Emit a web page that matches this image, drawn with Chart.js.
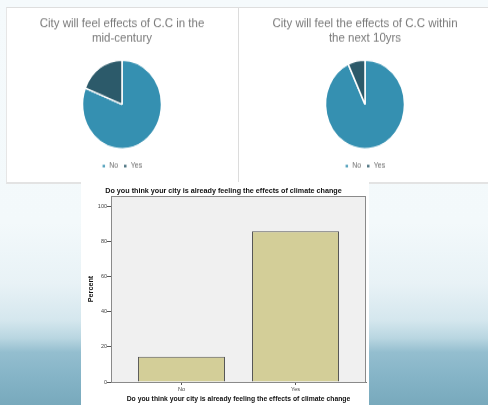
<!DOCTYPE html>
<html>
<head>
<meta charset="utf-8">
<script src="https://cdn.jsdelivr.net/npm/chart.js@4.4.1/dist/chart.umd.min.js"></script>
<style>
  body {
    margin: 0;
    width: 488px;
    height: 405px;
    overflow: hidden;
    position: relative;
    background: linear-gradient(180deg, #f5fafc 0%, #f3f9fb 55%, #e8f2f6 70%, #d5e7ee 79%, #b9d6e1 83.5%, #94becf 87%, #85b4c7 93%, #78a9bc 100%);
  }
  #top {
    position: absolute; left: 6px; top: 7px; width: 482px; height: 174px;
    background: #fff; border-top: 1px solid #dedede; border-left: 1px solid #e6e6e6; border-bottom: 2px solid #e3e3e3;
  }
  #sep { position: absolute; left: 238px; top: 8px; width: 1px; height: 174px; background: #dcdcdc; }
  .pie { position: absolute; top: 8px; height: 154px; transform: scaleY(1.125); transform-origin: 0 0; }
  #barbox { position: absolute; left: 81px; top: 182px; width: 288px; height: 223px; background: #fff; }
</style>
</head>
<body>
<div id="top"></div>
<div id="sep"></div>
<div class="pie" style="left:6px;width:232px"><canvas id="pie1" width="232" height="154"></canvas></div>
<div class="pie" style="left:242px;width:246px"><canvas id="pie2" width="246" height="154"></canvas></div>
<div id="barbox"><canvas id="bar" width="288" height="223"></canvas></div>
<script>
// pie data (share of answers, %)
const pieLabels = ["No", "Yes"];
const midCentury = [81, 19];
const next10yrs = [93, 7];
const pieColors = ["#3590b1", "#2c5a6a"];

// bar data
const barLabels = ["No", "Yes"];
const barPercent = [14.3, 85.7];
const barQuestion = "Do you think your city is already feeling the effects of climate change";

function pieChart(id, title, values) {
  new Chart(document.getElementById(id), {
    type: "pie",
    data: {
      labels: pieLabels,
      datasets: [{
        data: values,
        backgroundColor: pieColors,
        borderColor: "#fff",
        borderWidth: 1.5
      }]
    },
    options: {
      responsive: false,
      animation: false,
      radius: 39.5,
      layout: { padding: 0 },
      plugins: {
        title: {
          display: true,
          text: title,
          color: "#7a7a7a",
          font: { family: "Liberation Sans", size: 11.5, weight: "normal", lineHeight: 1.087 },
          padding: { top: 8, bottom: 6.3 }
        },
        legend: {
          position: "bottom",
          labels: {
            usePointStyle: true,
            pointStyle: "rect",
            pointStyleWidth: 4,
            boxWidth: 4,
            boxHeight: 3.5,
            padding: 5,
            color: "#6a6a6a",
            font: { family: "Liberation Sans", size: 7 }
          }
        },
        tooltip: { enabled: false }
      }
    }
  });
}

pieChart("pie1", ["City will feel effects of C.C in the", "mid-century"], midCentury);
pieChart("pie2", ["City will feel the effects of C.C within", "the next 10yrs"], next10yrs);

const plotFrame = {
  id: "plotFrame",
  beforeDraw(chart) {
    const a = chart.chartArea, ctx = chart.ctx;
    ctx.save();
    ctx.fillStyle = "#f0f0f0";
    ctx.fillRect(a.left, a.top, a.right - a.left, a.bottom - a.top);
    ctx.restore();
  },
  afterDraw(chart) {
    const a = chart.chartArea, ctx = chart.ctx;
    ctx.save();
    ctx.strokeStyle = "#8a8a8a";
    ctx.lineWidth = 1;
    ctx.strokeRect(a.left + 0.5, a.top + 0.5, a.right - a.left - 1, a.bottom - a.top);
    ctx.restore();
  }
};

const boldFont = { family: "Liberation Sans", size: 7.2, weight: "bold" };

new Chart(document.getElementById("bar"), {
  type: "bar",
  data: {
    datasets: [{
      data: barLabels.map((l, i) => ({ x: i + 1, y: barPercent[i] })),
      backgroundColor: "#d3ce98",
      borderColor: "#555",
      borderWidth: 1,
      categoryPercentage: 1,
      barPercentage: 0.763
    }]
  },
  options: {
    responsive: false,
    animation: false,
    layout: { padding: { right: 3 } },
    scales: {
      x: {
        type: "linear",
        offset: false,
        min: 0.382,
        max: 2.618,
        afterBuildTicks(s) { s.ticks = barLabels.map((l, i) => ({ value: i + 1 })); },
        afterFit(s) { s.height = 23; },
        grid: { offset: false, drawOnChartArea: false, tickLength: 3, color: "#555" },
        border: { color: "#777" },
        ticks: {
          padding: 1,
          color: "#444",
          font: { family: "Liberation Sans", size: 5.5 },
          callback: v => barLabels[v - 1]
        },
        title: { display: true, text: barQuestion, color: "#111", font: { family: "Liberation Sans", size: 6.8, weight: "bold" }, padding: { top: 0, bottom: 1.7 } }
      },
      y: {
        min: 0,
        max: 105.7,
        afterFit(s) { s.width = 30; },
        grid: { drawOnChartArea: false, tickLength: 4, color: "#555" },
        border: { color: "#777" },
        ticks: {
          stepSize: 20,
          includeBounds: false,
          padding: 0,
          color: "#444",
          font: { family: "Liberation Sans", size: 5.5 }
        },
        title: { display: true, text: "Percent", color: "#111", font: boldFont, padding: { top: 6, bottom: 0 } }
      }
    },
    plugins: {
      title: {
        display: true,
        text: barQuestion,
        color: "#111",
        font: boldFont,
        padding: { top: 4.5, bottom: 0.86 }
      },
      legend: { display: false },
      tooltip: { enabled: false }
    }
  },
  plugins: [plotFrame]
});
</script>
</body>
</html>
